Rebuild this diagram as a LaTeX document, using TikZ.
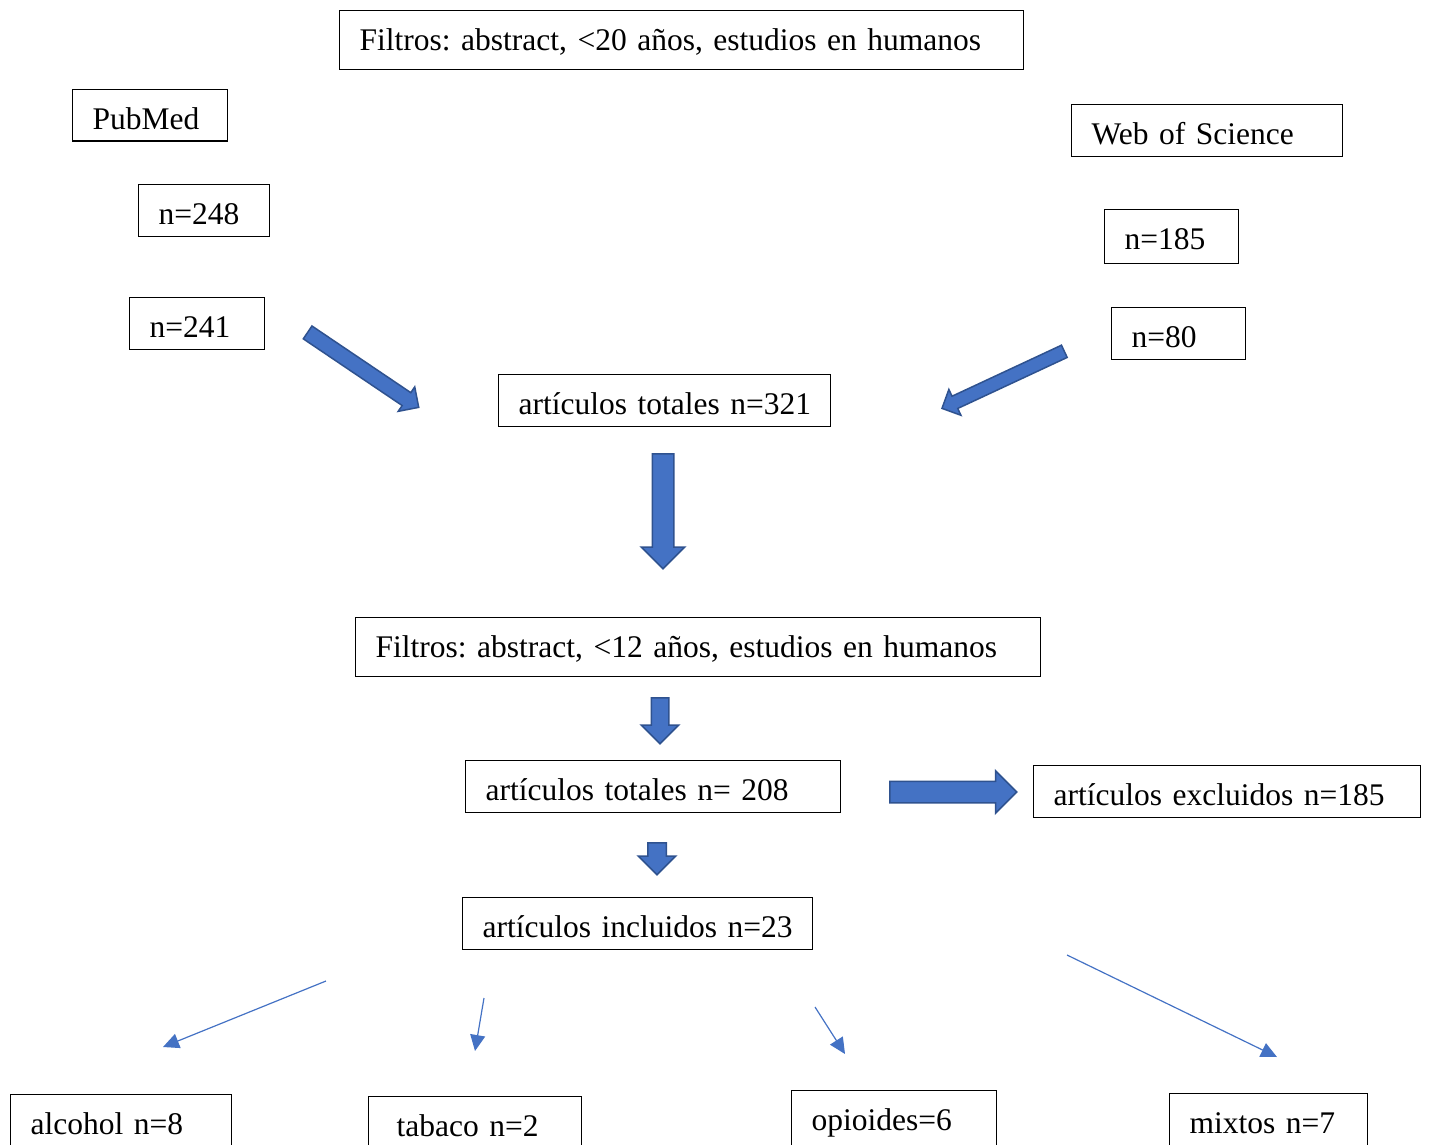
\documentclass[tikz,border=0pt]{standalone}
\usepackage{fontspec}
\setmainfont{Liberation Serif}
\usepackage{tikz}
\usetikzlibrary{shapes.arrows,arrows.meta}
\definecolor{arrowfill}{HTML}{4472C4}
\definecolor{arrowline}{HTML}{2F528F}
\frenchspacing
\tikzstyle{box}=[rectangle,
	draw=black,
	line width=0.65pt,
	anchor=north west,
	inner xsep=10pt,
	inner ysep=0pt,
	align=left,
	text height=20pt,
	text depth=5.75pt,
	execute at begin node={\hbox\bgroup},
	execute at end node={\egroup},
	font=\fontsize{15.75pt}{19pt}\selectfont]
\tikzstyle{filterbox}=[box,
	text depth=9.5pt]
\tikzstyle{blockarrow}=[single arrow,
	draw=arrowline,
	fill=arrowfill,
	line width=0.75pt,
	inner xsep=0pt,
	anchor=tail]
\tikzstyle{thinarrow}=[draw=arrowfill,
	line width=0.6pt,
	-{Triangle[length=8pt,width=7.5pt]}]
\begin{document}
\begin{tikzpicture}[x=0.5pt,y=-0.5pt]
					\useasboundingbox (0,0) rectangle (1429,1145);
					\clip (0,0) rectangle (1429,1145);

					\node (filtroA) [filterbox, text width=322pt] at (339,10) {Filtros: abstract, <20 años, estudios en humanos};
					\node (pubmed) [box, text width=57.5pt] at (72,89) {PubMed};
					\node (pubA) [box, text width=45.5pt] at (138,184) {n=248};
					\node (pubB) [box, text width=47.5pt] at (129,297) {n=241};
					\node (wos) [box, text width=115.5pt] at (1071,104) {Web of Science};
					\node (wosA) [box, text width=47pt, text depth=7pt] at (1104,209) {n=185};
					\node (wosB) [box, text width=47pt] at (1111,307) {n=80};
					\node (totalA) [box, text width=146pt] at (498,374) {artículos totales n=321};

					\node (filtroB) [filterbox, text width=322.5pt] at (355,617) {Filtros: abstract, <12 años, estudios en humanos};
					\node (totalB) [box, text width=167.5pt] at (465,760) {artículos totales n= 208};
					\node (excl) [box, text width=173.5pt] at (1033,765) {artículos excluidos n=185};
					\node (incl) [box, text width=155pt] at (462,897) {artículos incluidos n=23};

					\node (alcohol) [box, text width=90.5pt, text depth=8pt] at (10,1094) {alcohol n=8};
					\node (tabaco) [box, inner xsep=14pt, text width=78.5pt, text depth=8pt] at (368,1096) {tabaco n=2};
					\node (opioides) [box, text width=82.5pt, text depth=8pt] at (791,1090) {opioides=6};
					\node (mixtos) [box, text width=79pt, text depth=8pt] at (1169,1093) {mixtos n=7};

					\coordinate (pubTail) at (307,332);
					\coordinate (wosTail) at (1065,351);
					\coordinate (totalTail) at (663,453);
					\coordinate (filtroTail) at (660,697);
					\coordinate (inclTail) at (657,842);
					\coordinate (exclTail) at (889,792);

					\node (arrPub) [blockarrow, rotate=-34, minimum height=67pt, inner ysep=3.5pt, single arrow head extend=3.5pt] at (pubTail) {};
					\node (arrWos) [blockarrow, rotate=-155, minimum height=67.5pt, inner ysep=3pt, single arrow head extend=3.75pt] at (wosTail) {};
					\node (arrTotal) [blockarrow, rotate=-90, minimum height=57.5pt, inner ysep=5pt, single arrow head extend=5.5pt] at (totalTail) {};
					\node (arrFiltro) [blockarrow, rotate=-90, minimum height=23pt, inner ysep=4pt, single arrow head extend=5pt] at (filtroTail) {};
					\node (arrIncl) [blockarrow, rotate=-90, minimum height=16pt, inner ysep=4.25pt, single arrow head extend=4.75pt] at (inclTail) {};
					\node (arrExcl) [blockarrow, minimum height=63.5pt, inner ysep=5pt, single arrow head extend=5.25pt] at (exclTail) {};

					\coordinate (alcFrom) at (326,981);
					\coordinate (alcTo) at (163,1047);
					\coordinate (tabFrom) at (484,998);
					\coordinate (tabTo) at (475,1051);
					\coordinate (opiFrom) at (815,1007);
					\coordinate (opiTo) at (845,1054);
					\coordinate (mixFrom) at (1067,955);
					\coordinate (mixTo) at (1277,1057);
					\draw[thinarrow] (alcFrom) -- (alcTo);
					\draw[thinarrow] (tabFrom) -- (tabTo);
					\draw[thinarrow] (opiFrom) -- (opiTo);
					\draw[thinarrow] (mixFrom) -- (mixTo);
				\end{tikzpicture}
\end{document}
